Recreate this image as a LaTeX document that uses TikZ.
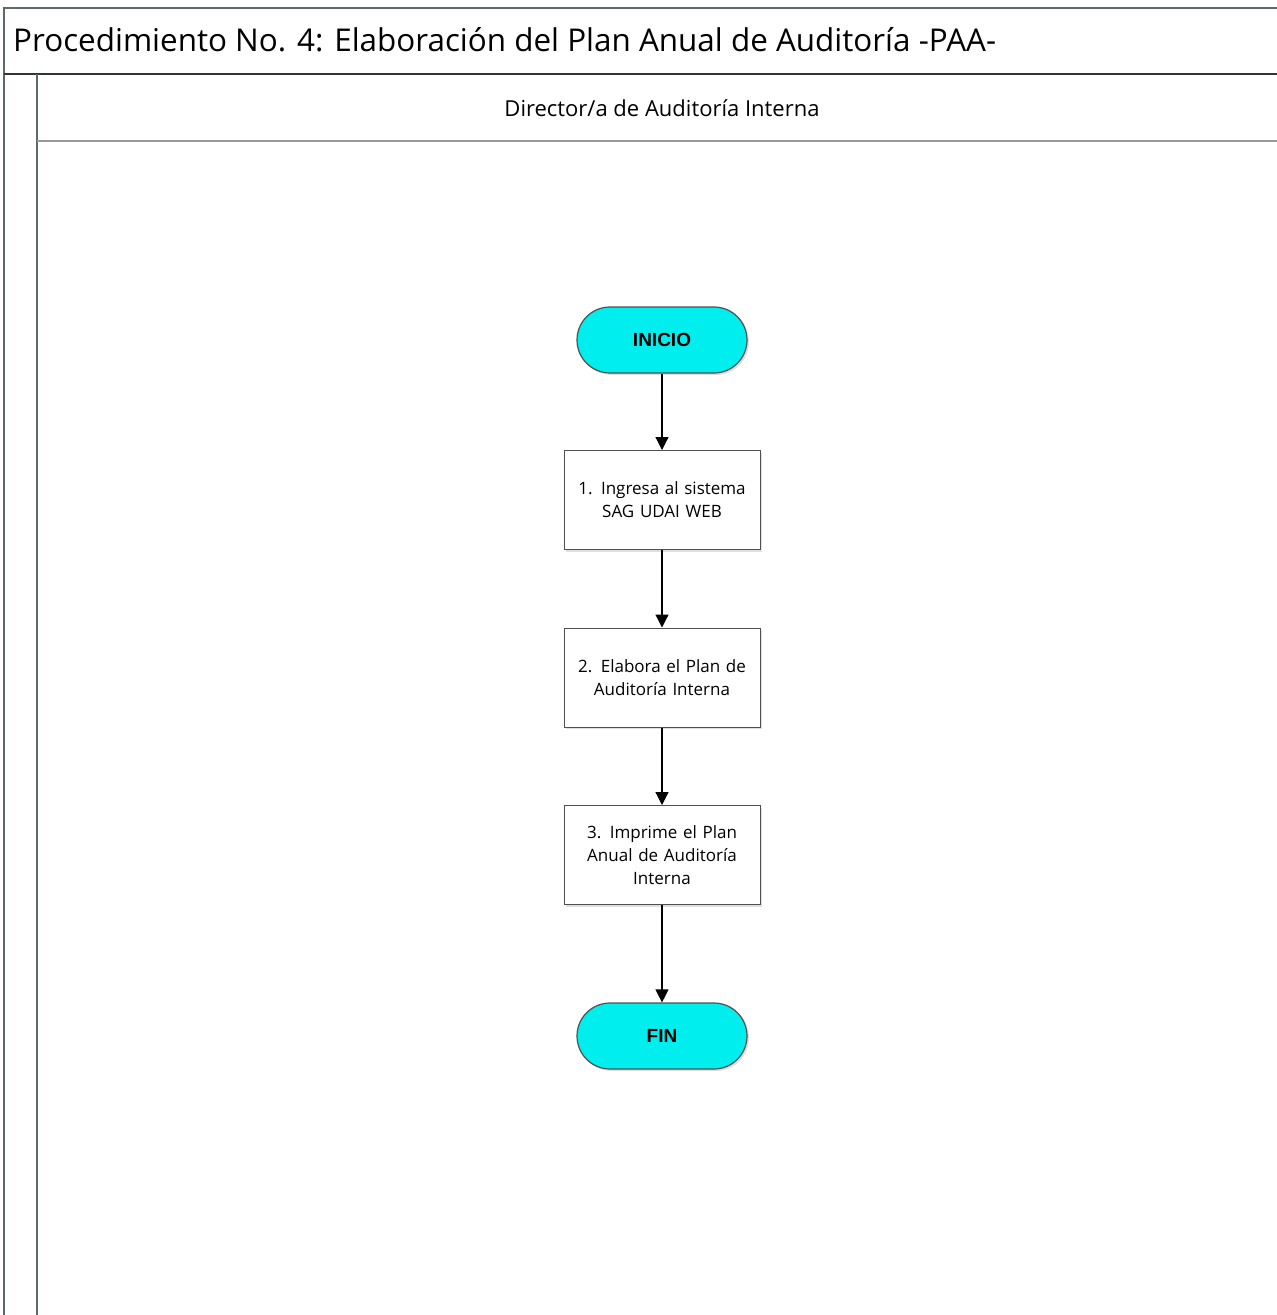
\documentclass[tikz,border=0pt]{standalone}
\usepackage{fontspec}
\setmainfont{Open Sans}
\newfontfamily\arialbold{Liberation Sans}
\usetikzlibrary{arrows.meta,shadows}
\definecolor{frameline}{RGB}{90,105,105}
\definecolor{termfill}{RGB}{0,238,238}
\definecolor{boxline}{RGB}{80,80,80}
\tikzset{
  term/.style={draw=boxline, line width=1.2pt, fill=termfill, rounded corners=33pt,
    minimum width=170pt, minimum height=66pt, inner sep=0pt,
    font=\arialbold\bfseries\fontsize{19}{21}\selectfont,
    drop shadow={shadow xshift=2pt, shadow yshift=-2pt, opacity=0.25}},
  stepbox/.style={draw=boxline, line width=1pt, fill=white, minimum width=196pt,
    minimum height=99pt, inner sep=2pt, align=center, text width=180pt,
    font=\fontsize{17}{23}\selectfont,
    drop shadow={shadow xshift=2pt, shadow yshift=-2pt, opacity=0.25}},
  flow/.style={line width=1.2pt, -{Triangle[length=13pt,width=13pt]}},
  lane/.style={draw=frameline, line width=1.5pt}
}
\begin{document}
\begin{tikzpicture}[x=1pt,y=-1pt]
\useasboundingbox (0,0) rectangle (1277,1315);
% frame
\draw[lane] (1277,8) -- (4,8) -- (4,1315);
\draw[draw=black!80, line width=1.5pt] (4,74) -- (1277,74);
\draw[lane] (37,74) -- (37,1315);
\draw[draw=gray!80, line width=1.5pt] (37,141) -- (1277,141);
\node[anchor=west, font=\fontsize{31.4}{36}\selectfont, inner sep=0pt] (title) at (13,40) {Procedimiento No. 4: Elaboración del Plan Anual de Auditoría -PAA-};
\node[font=\fontsize{22}{25}\selectfont, inner sep=0pt] (lanehead) at (662,108) {Director/a de Auditoría Interna};
% nodes
\node[term] (inicio) at (662,340) {INICIO};
\node[stepbox] (s1) at (662,500) {1. Ingresa al sistema\\SAG UDAI WEB};
\node[stepbox] (s2) at (662,677.5) {2. Elabora el Plan de\\Auditoría Interna};
\node[stepbox] (s3) at (662,855) {3. Imprime el Plan\\Anual de Auditoría\\Interna};
\node[term] (fin) at (662,1036) {FIN};
% connectors
\draw[flow] (inicio) -- (s1);
\draw[flow] (s1) -- (s2);
\draw[flow] (s2) -- (s3);
\draw[flow] (s3) -- (fin);
\end{tikzpicture}
\end{document}
